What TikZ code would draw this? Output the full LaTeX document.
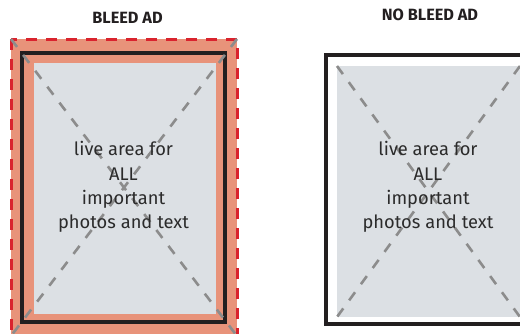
\documentclass[tikz,border=0pt]{standalone}
\usepackage{fontspec}
\setmainfont{Fira Sans}
\begin{document}
\begin{tikzpicture}[x=1pt,y=-1pt,
  bleedfill/.style={fill=salmon},
  bleedline/.style={draw=bleedred,line width=3pt,dash pattern=on 11pt off 9pt},
  trimline/.style={draw=trimblack,line width=3.2pt},
  livefill/.style={fill=livegray},
  diag/.style={draw=diaggray,line width=2.6pt,dash pattern=on 10pt off 10pt},
  title/.style={font=\fontsize{16.3}{19}\selectfont\bfseries,text=titlecol,inner sep=0pt,anchor=base},
  livetext/.style={font=\fontsize{18.3}{24.3}\selectfont,text=txtcol,align=center,inner sep=0pt}
]
\definecolor{salmon}{HTML}{E8937A}
\definecolor{bleedred}{HTML}{D9232E}
\definecolor{trimblack}{HTML}{231F20}
\definecolor{livegray}{HTML}{DCE0E4}
\definecolor{diaggray}{HTML}{8C8C8C}
\definecolor{titlecol}{HTML}{231F20}
\definecolor{txtcol}{HTML}{2B2B2B}
\useasboundingbox (0,0) rectangle (520,333);
\clip (0,0) rectangle (520,333);
% left panel: bleed ad
\coordinate (bTL) at (11,39);
\coordinate (bBR) at (237,336);
\coordinate (bTR) at (237,39);
\coordinate (bBL) at (11,336);
\path[bleedfill] (bTL) rectangle (bBR);
\path[livefill] (34,63) rectangle (216,314);
\path[trimline] (22,53) rectangle (225,322);
\path[bleedline] (bTL) rectangle (bBR);
\draw[diag] (bTL) -- (bBR);
\draw[diag] (bTR) -- (bBL);
% right panel: no bleed ad
\coordinate (nTL) at (337,66);
\coordinate (nBR) at (520,317);
\coordinate (nTR) at (520,66);
\coordinate (nBL) at (337,317);
\path[trimline] (326,55) rectangle (529,324);
\path[livefill] (nTL) rectangle (nBR);
\draw[diag] (nTL) -- (nBR);
\draw[diag] (nTR) -- (nBL);
% texts
\node[title] (t1) at (127.5,23.3) {BLEED AD};
\node[title] (t2) at (430,20) {NO BLEED AD};
\node[livetext] (l1) at (123.5,187) {live area for\\ALL\\important\\photos and text};
\node[livetext] (l2) at (428,187) {live area for\\ALL\\important\\photos and text};
\end{tikzpicture}
\end{document}
